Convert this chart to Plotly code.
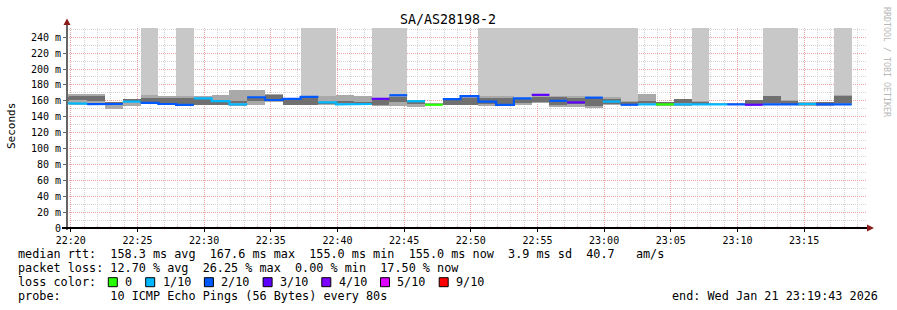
import pandas as pd
import plotly.graph_objects as go

# ---------------- data ----------------
title = "SA/AS28198-2"
range_start = "2026-01-21 22:19:43"
range_end = "2026-01-21 23:19:43"
first_step = "2026-01-21 22:18:34"
step_seconds = 80

median_ms = [157, 156.5, 155.8, 156, 159, 157.5, 156, 155, 163, 159.5, 155.5,
             164.5, 161, 162.5, 165, 158, 155.5, 156, 162.5, 167, 159.5, 155,
             162, 166, 159, 155, 163, 167.5, 160, 158, 164, 159, 155, 155.5,
             155.5, 155.5, 155.5, 155.5, 155.5, 155, 155.5, 155.5, 156, 155.5, 155.5]
loss_tenths = [1, 1, 2, 2, 1, 2, 2, 2, 1, 1, 1,
               2, 2, 2, 2, 1, 1, 1, 3, 2, 1, 0,
               2, 2, 2, 2, 2, 3, 2, 3, 2, 1, 2, 1,
               0, 1, 1, 1, 2, 3, 2, 2, 1, 2, 2]
smoke_lo = [157, 155, 155, 150, 153, 156, 155, 154, 155, 155, 154,
            155, 159, 155, 155, 155, 155, 155, 154, 153, 152, 155,
            155, 155, 153, 155, 155, 157, 152, 152, 151, 155, 155, 155,
            153, 153, 155, 155, 155, 155, 155, 155, 153, 153, 155]
smoke_hi = [168, 168, 168, 159, 162, 167, 166, 166, 166, 167, 174,
            174, 168, 164, 166, 166, 167, 166, 163, 168, 161, 156,
            162, 167, 166, 166, 164, 168, 166, 166, 165, 165, 160, 168,
            158, 162.5, 160, 156, 156, 161, 166, 161, 158, 159, 167]
core_lo = [160, 161, 160, 157, 159, 158, 157, 156, 155, 155, 157,
           160, 162, 155, 155, 156, 157, 157, 155, 158, 157, 155,
           155, 155, 156, 156, 157, 159, 155, 156, 153, 156, 156, 157,
           156, 157, 156, 155, 155, 156, 157, 156, 156, 157, 157]
core_hi = [165, 166, 166, 159, 162, 164, 164, 164, 162, 159, 160,
           165, 167, 161, 163, 158, 160, 159, 161, 165, 159, 155,
           161, 164, 163, 163, 162, 165, 165, 164, 163, 162, 159, 160,
           158, 162, 159, 155, 155, 161, 166, 160, 157, 159, 166]
lost_spike = [0, 0, 0, 0, 0, 1, 0, 1, 0, 0, 0,
              0, 0, 0, 1, 1, 0, 0, 1, 1, 0, 0,
              0, 0, 1, 1, 1, 1, 1, 1, 1, 1, 1, 0,
              0, 0, 1, 0, 0, 0, 1, 1, 0, 0, 1]

y_tick_values = [0, 20, 40, 60, 80, 100, 120, 140, 160, 180, 200, 220, 240]
y_tick_labels = ["0", "20 m", "40 m", "60 m", "80 m", "100 m", "120 m", "140 m",
                 "160 m", "180 m", "200 m", "220 m", "240 m"]

loss_labels = ["0", "1/10", "2/10", "3/10", "4/10", "5/10", "9/10"]
loss_levels = [0, 1, 2, 3, 4, 5, 9]
loss_colors = ["#26ff00", "#00b8ff", "#0059ff", "#5e00ff", "#7e00ff", "#dd00ff", "#ff0000"]

stats_line1 = "median rtt:  158.3 ms avg  167.6 ms max  155.0 ms min  155.0 ms now  3.9 ms sd  40.7   am/s"
stats_line2 = "packet loss: 12.70 % avg  26.25 % max  0.00 % min  17.50 % now"
stats_line3 = "loss color:"
stats_line4 = "probe:       10 ICMP Echo Pings (56 Bytes) every 80s"
end_text = "end: Wed Jan 21 23:19:43 2026"
watermark = "RRDTOOL / TOBI OETIKER"
y_title = "Seconds"

# ---------------- geometry helpers ----------------
W, H = 897, 310
L, R, T, B = 67, 30, 28, 82
PW, PH = W - L - R, H - T - B
FONT = "DejaVu Sans Mono"


def px(x):
    return (x - L) / PW


def py(y):
    return (T + PH - y) / PH


def nb(s):
    return s.replace(" ", "\u00a0")


n = len(median_ms)
starts = pd.date_range(first_step, periods=n, freq=f"{step_seconds}s")
step = pd.Timedelta(seconds=step_seconds)
centers = starts + step / 2
fmt = "%Y-%m-%d %H:%M:%S"
cx = [t.strftime(fmt) for t in centers]
width_ms = step_seconds * 1000

fig = go.Figure()

# tall light bars where pings were lost
tall_x = [cx[i] for i in range(n) if lost_spike[i]]
tall_base = [smoke_lo[i] for i in range(n) if lost_spike[i]]
tall_h = [400 - smoke_lo[i] for i in range(n) if lost_spike[i]]
fig.add_trace(go.Bar(x=tall_x, y=tall_h, base=tall_base, width=width_ms,
                     marker=dict(color="#c8c8c8", line=dict(width=0)), hoverinfo="skip"))
# outer smoke
fig.add_trace(go.Bar(x=cx, y=[h - l for l, h in zip(smoke_lo, smoke_hi)], base=smoke_lo,
                     width=width_ms, marker=dict(color="#a9a9a9", line=dict(width=0)),
                     hoverinfo="skip"))
# inner smoke
fig.add_trace(go.Bar(x=cx, y=[h - l for l, h in zip(core_lo, core_hi)], base=core_lo,
                     width=width_ms, marker=dict(color="#707070", line=dict(width=0)),
                     hoverinfo="skip"))

# median line, coloured by loss
for lvl, col in zip(loss_levels, loss_colors):
    xs, ys = [], []
    prev = False
    for i in range(n):
        if loss_tenths[i] == lvl:
            if not prev and xs:
                xs.append(None)
                ys.append(None)
            xs += [starts[i].strftime(fmt), (starts[i] + step).strftime(fmt)]
            ys += [median_ms[i], median_ms[i]]
            prev = True
        else:
            prev = False
    if xs:
        fig.add_trace(go.Scatter(x=xs, y=ys, mode="lines",
                                 line=dict(color=col, width=2.2), hoverinfo="skip"))

# ---------------- annotations ----------------
ann = []
ann.append(dict(text=nb(title), x=px(448), y=py(19), xref="paper", yref="paper",
                showarrow=False, xanchor="center", yanchor="middle",
                font=dict(family=FONT, size=13.3, color="#000")))
ann.append(dict(text=y_title, x=px(11), y=py(126), xref="paper", yref="paper",
                showarrow=False, textangle=-90, xanchor="center", yanchor="middle",
                font=dict(family=FONT, size=11, color="#000")))
ann.append(dict(text=nb(watermark), x=px(887), y=py(5), xref="paper", yref="paper",
                showarrow=False, textangle=90, xanchor="center", yanchor="top",
                font=dict(family=FONT, size=8.3, color="#b8b8b8")))
for txt, yy in [(stats_line1, 254.3), (stats_line2, 268.3), (stats_line3, 282.3), (stats_line4, 296)]:
    ann.append(dict(text=nb(txt), x=px(16), y=py(yy), xref="paper", yref="paper",
                    showarrow=False, xanchor="left", yanchor="middle",
                    font=dict(family=FONT, size=11.8, color="#000")))
ann.append(dict(text=nb(end_text), x=px(880), y=py(296), xref="paper", yref="paper",
                showarrow=False, xanchor="right", yanchor="middle",
                font=dict(family=FONT, size=11.8, color="#000")))

shapes = []
sx = 108.3
for lab, col in zip(loss_labels, loss_colors):
    shapes.append(dict(type="rect", xref="paper", yref="paper",
                       x0=px(sx), x1=px(sx + 9), y0=py(286.7), y1=py(277.7),
                       fillcolor=col, line=dict(color="#000", width=1)))
    ann.append(dict(text=lab, x=px(sx + 15), y=py(282.3), xref="paper", yref="paper",
                    showarrow=False, xanchor="left", yanchor="middle",
                    font=dict(family=FONT, size=11.8, color="#000")))
    sx += 30.3 + 7.1 * len(lab)

# axes lines with arrows
shapes.append(dict(type="line", xref="paper", yref="paper", x0=px(67), x1=px(67),
                   y0=py(230), y1=py(23), line=dict(color="#666", width=2)))
shapes.append(dict(type="path", xref="paper", yref="paper",
                   path=f"M {px(63.5)},{py(25)} L {px(70.5)},{py(25)} L {px(67)},{py(18.5)} Z",
                   fillcolor="#8b1a1a", line=dict(color="#8b1a1a", width=0)))
shapes.append(dict(type="line", xref="paper", yref="paper", x0=px(62), x1=px(868),
                   y0=py(228), y1=py(228), line=dict(color="#000", width=2)))
shapes.append(dict(type="path", xref="paper", yref="paper",
                   path=f"M {px(867)},{py(224.5)} L {px(867)},{py(231.5)} L {px(874)},{py(228)} Z",
                   fillcolor="#8b1a1a", line=dict(color="#8b1a1a", width=0)))

fig.update_layout(
    width=W, height=H,
    margin=dict(l=L, r=R, t=T, b=B, pad=0),
    paper_bgcolor="white", plot_bgcolor="white",
    barmode="overlay", bargap=0,
    showlegend=False,
    annotations=ann, shapes=shapes,
    font=dict(family=FONT, color="#000"),
    xaxis=dict(
        type="date", range=[range_start, range_end],
        tick0="2026-01-21 22:20:00", dtick=300000, tickformat="%H:%M",
        showgrid=True, gridcolor="#eba3a3", griddash="1px,1px", gridwidth=1,
        ticks="outside", ticklen=3, tickcolor="#000",
        tickfont=dict(family=FONT, size=10, color="#000"),
        minor=dict(dtick=60000, tick0="2026-01-21 22:20:00", showgrid=True,
                   gridcolor="#d4d4d4", griddash="1px,1px", gridwidth=1,
                   ticks="inside", ticklen=2, tickcolor="#e0a0a0"),
        zeroline=False, showline=False, fixedrange=True,
    ),
    yaxis=dict(
        range=[0, 251.6], tickvals=y_tick_values, ticktext=y_tick_labels,
        showgrid=True, gridcolor="#eba3a3", griddash="1px,1px", gridwidth=1,
        ticks="outside", ticklen=3, tickcolor="#666",
        tickfont=dict(family=FONT, size=10, color="#000"),
        minor=dict(dtick=10, tick0=0, showgrid=True, gridcolor="#d4d4d4",
                   griddash="1px,1px", gridwidth=1),
        zeroline=False, showline=False, fixedrange=True,
    ),
)

fig.write_html("out.html")
